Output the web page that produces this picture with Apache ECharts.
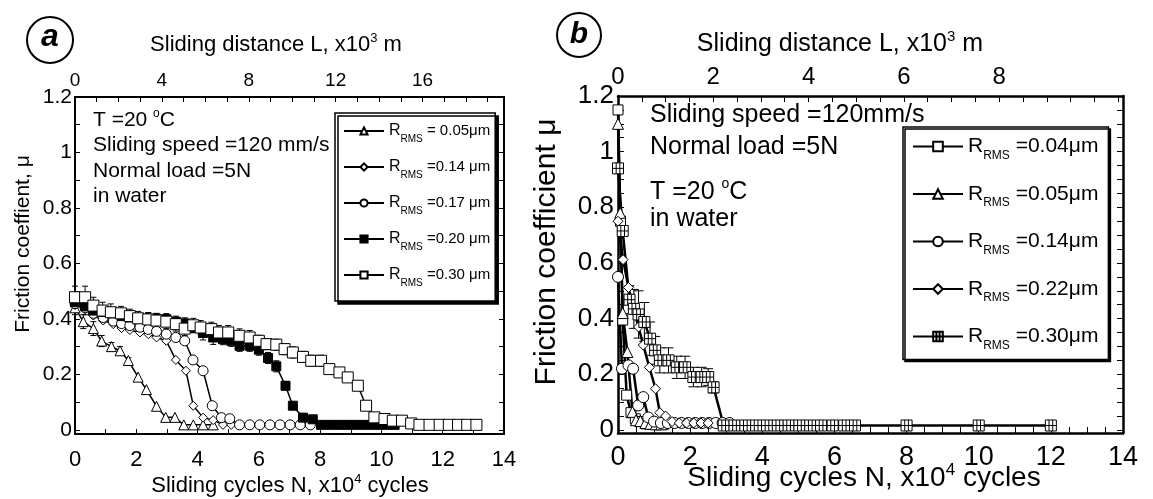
<!DOCTYPE html>
<html><head><meta charset="utf-8">
<script src="https://cdn.jsdelivr.net/npm/echarts@6/dist/echarts.min.js"></script>
<style>html,body{margin:0;padding:0;background:#fff;}#c{width:1153px;height:499px;}</style>
</head><body><div id="c"></div>
<script>
const FONT = '"Liberation Sans", Arial, Helvetica, sans-serif';

// ---------- Panel a : axes ----------
const cyclesTicksA = [0,1,2,3,4,5,6,7,8,9,10,11,12,13,14];
const cyclesLabelsA = [0,2,4,6,8,10,12,14];
const distTicksA = [0,1,2,3,4,5,6,7,8,9,10,11,12,13,14,15,16,17,18,19];
const distLabelsA = [0,4,8,12,16];
const muTicksA = [0,0.1,0.2,0.3,0.4,0.5,0.6,0.7,0.8,0.9,1,1.1,1.2];
const muLabelsA = [0,0.2,0.4,0.6,0.8,1,1.2];

// ---------- Panel b : axes ----------
const cyclesTicksB = [0,0.5,1,1.5,2,2.5,3,3.5,4,4.5,5,5.5,6,6.5,7,7.5,8,8.5,9,9.5,10,10.5,11,11.5,12,12.5,13,13.5,14];
const cyclesLabelsB = [0,2,4,6,8,10,12,14];
const distTicksB = [0,0.5,1,1.5,2,2.5,3,3.5,4,4.5,5,5.5,6,6.5,7,7.5,8,8.5,9,9.5,10,10.5];
const distLabelsB = [0,2,4,6,8];
const muTicksB = [0,0.05,0.1,0.15,0.2,0.25,0.3,0.35,0.4,0.45,0.5,0.55,0.6,0.65,0.7,0.75,0.8,0.85,0.9,0.95,1,1.05,1.1,1.15,1.2];
const muLabelsB = [0,0.2,0.4,0.6,0.8,1,1.2];

// ---------- Panel a : series [N (x10^4 cycles), mu, error] ----------
const a005 = [[0,0.44,0.025],[0.27,0.39,0.025],[0.6,0.365,0.025],[0.87,0.32,0.02],[1.19,0.30,0.015],[1.47,0.285,0.015],[1.74,0.25,0.01],[2.06,0.19,0],[2.33,0.145,0],[2.66,0.085,0],[2.96,0.045,0],[3.26,0.045,0],[3.55,0.018,0],[3.86,0.018,0],[4.18,0.018,0],[4.51,0.018,0]];
const a014 = [[0,0.45,0],[0.33,0.436,0],[0.6,0.412,0],[0.92,0.394,0],[1.25,0.381,0],[1.52,0.367,0],[1.79,0.36,0],[2.12,0.351,0],[2.39,0.345,0],[2.66,0.333,0],[2.98,0.321,0],[3.29,0.252,0],[3.62,0.213,0],[3.86,0.087,0],[4.18,0.044,0],[4.51,0.035,0],[4.83,0.018,0],[5.1,0.018,0]];
const a017 = [[0,0.455,0],[0.33,0.44,0],[0.6,0.42,0],[0.92,0.405,0],[1.25,0.392,0],[1.52,0.383,0],[1.79,0.376,0],[2.12,0.37,0],[2.39,0.362,0],[2.66,0.355,0],[2.98,0.345,0],[3.29,0.333,0],[3.58,0.321,0],[3.85,0.252,0],[4.18,0.213,0],[4.48,0.087,0],[4.78,0.044,0],[5.05,0.04,0],[5.37,0.018,0],[5.7,0.018,0],[6.03,0.018,0],[6.36,0.018,0],[6.69,0.018,0],[7.02,0.018,0],[7.35,0.018,0],[7.68,0.018,0]];
const a020 = [[0,0.46,0.02],[0.33,0.445,0.03],[0.6,0.43,0.02],[0.92,0.425,0.02],[1.25,0.42,0.02],[1.52,0.41,0.02],[1.79,0.405,0.02],[2.12,0.40,0.02],[2.39,0.40,0.02],[2.66,0.40,0.02],[2.98,0.399,0.02],[3.29,0.39,0.02],[3.58,0.384,0.02],[3.86,0.37,0.02],[4.18,0.349,0.025],[4.51,0.333,0.025],[4.83,0.327,0.02],[5.1,0.321,0.02],[5.37,0.303,0.02],[5.7,0.303,0.02],[6.0,0.289,0.02],[6.3,0.259,0.02],[6.57,0.229,0.02],[6.87,0.159,0.015],[7.11,0.087,0],[7.44,0.044,0],[7.76,0.038,0],[8.03,0.018,0],[8.33,0.018,0],[8.63,0.018,0],[8.93,0.018,0],[9.23,0.018,0],[9.53,0.018,0],[9.83,0.018,0],[10.13,0.018,0],[10.43,0.018,0]];
const a030 = [[0,0.478,0.04],[0.33,0.478,0.04],[0.6,0.448,0.03],[0.9,0.43,0.03],[1.17,0.424,0.03],[1.5,0.42,0.025],[1.79,0.41,0.025],[2.06,0.402,0.025],[2.39,0.398,0.025],[2.66,0.394,0.025],[2.98,0.39,0.025],[3.29,0.381,0.025],[3.58,0.365,0.025],[3.86,0.377,0.025],[4.1,0.369,0.025],[4.45,0.363,0.025],[4.7,0.351,0.025],[5.0,0.351,0.025],[5.37,0.339,0.025],[5.7,0.333,0.025],[6.0,0.321,0.02],[6.25,0.309,0.02],[6.57,0.307,0.02],[6.84,0.291,0.02],[7.11,0.279,0.02],[7.44,0.263,0.02],[7.71,0.249,0.02],[8.03,0.249,0.02],[8.3,0.219,0.015],[8.63,0.207,0.015],[8.9,0.189,0.015],[9.23,0.159,0.015],[9.5,0.087,0],[9.77,0.045,0],[10.1,0.039,0],[10.37,0.033,0],[10.67,0.033,0],[10.97,0.023,0],[11.24,0.018,0],[11.57,0.018,0],[11.9,0.018,0],[12.2,0.018,0],[12.5,0.018,0],[12.8,0.018,0],[13.1,0.018,0]];

// ---------- Panel b : series [N, mu, error] ----------
const b004 = [[0,1.15,0],[0.07,0.75,0],[0.13,0.395,0],[0.24,0.125,0],[0.36,0.062,0],[0.48,0.04,0],[0.62,0.03,0],[0.78,0.022,0],[0.94,0.02,0],[1.1,0.02,0],[1.26,0.02,0]];
const b005 = [[0,1.10,0],[0.06,0.78,0],[0.13,0.42,0],[0.26,0.28,0],[0.4,0.065,0],[0.5,0.035,0],[0.62,0.032,0],[0.76,0.025,0],[0.9,0.022,0],[1.05,0.02,0],[1.2,0.02,0]];
const b014 = [[0,0.55,0],[0.11,0.22,0],[0.29,0.232,0],[0.42,0.22,0],[0.56,0.088,0],[0.70,0.118,0],[0.84,0.045,0],[1.0,0.03,0],[1.19,0.025,0],[1.38,0.025,0],[1.57,0.025,0],[1.76,0.025,0],[1.95,0.025,0],[2.14,0.025,0],[2.33,0.025,0],[2.52,0.025,0],[2.71,0.025,0],[2.9,0.025,0],[3.09,0.025,0]];
const b022 = [[0,0.75,0],[0.14,0.612,0],[0.29,0.512,0],[0.43,0.435,0],[0.57,0.37,0],[0.7,0.305,0],[0.87,0.225,0],[1.04,0.148,0],[1.16,0.062,0],[1.32,0.05,0],[1.5,0.03,0],[1.7,0.025,0],[1.9,0.025,0],[2.1,0.025,0],[2.3,0.025,0],[2.5,0.025,0]];
const b030 = [[0,0.94,0],[0.13,0.715,0],[0.32,0.468,0.05],[0.44,0.435,0.07],[0.57,0.415,0.085],[0.73,0.388,0.07],[0.89,0.328,0.06],[1.03,0.286,0.05],[1.16,0.25,0.045],[1.4,0.25,0.045],[1.63,0.225,0.04],[1.86,0.225,0.04],[2.09,0.19,0.035],[2.32,0.19,0.035],[2.5,0.19,0.03],[2.65,0.153,0.02],[2.93,0.016,0],[3.23,0.016,0],[3.53,0.016,0],[3.83,0.016,0],[4.13,0.016,0],[4.43,0.016,0],[4.73,0.016,0],[5.03,0.016,0],[5.33,0.016,0],[5.63,0.016,0],[5.95,0.016,0],[6.27,0.016,0],[6.57,0.016,0],[8.0,0.016,0],[10.0,0.016,0],[12.0,0.016,0]];

// ---------- Legends ----------
const legendNamesA = ['a005','a014','a017','a020','a030'];
const legendValuesA = [' = 0.05\u03bcm',' =0.14 \u03bcm',' =0.17 \u03bcm',' =0.20 \u03bcm',' =0.30 \u03bcm'];
const legendNamesB = ['b004','b005','b014','b022','b030'];
const legendValuesB = [' =0.04\u03bcm',' =0.05\u03bcm',' =0.14\u03bcm',' =0.22\u03bcm',' =0.30\u03bcm'];

const CROSS = 'path://M0,0L12,0L12,12L0,12Z M4,0L4,12 M8,0L8,12 M0,6L12,6';
const fmt = v => String(Math.round(v * 100) / 100);

function xAx(grid, pos, min, max, ticks, labels, fs, margin, lw, tl) {
  return {type:'value', gridIndex:grid, position:pos, min:min, max:max,
    axisLine:{show:true, onZero:false, lineStyle:{color:'#000', width:lw}},
    axisTick:{show:true, inside:true, length:tl, customValues:ticks, lineStyle:{color:'#000', width:1}},
    axisLabel:{show:true, customValues:labels, fontSize:fs, fontFamily:FONT, color:'#000', margin:margin,
      showMinLabel:true, showMaxLabel:true, formatter:fmt},
    splitLine:{show:false}};
}
function yAx(grid, pos, min, max, ticks, labels, fs, margin, lw, tl, show) {
  return {type:'value', gridIndex:grid, position:pos, min:min, max:max,
    axisLine:{show:true, onZero:false, lineStyle:{color:'#000', width:lw}},
    axisTick:{show:true, inside:true, length:tl, customValues:ticks, lineStyle:{color:'#000', width:1}},
    axisLabel:{show:show, customValues:labels, fontSize:fs, fontFamily:FONT, color:'#000', margin:margin,
      padding:[0,0,8,0], showMinLabel:true, showMaxLabel:true, formatter:fmt},
    splitLine:{show:false}};
}
function lineS(name, data, ai, symbol, size, fill, lw) {
  return {type:'line', name:name, xAxisIndex:ai, yAxisIndex:ai, data:data.map(d => [d[0], d[1]]),
    symbol:symbol, symbolSize:size, showAllSymbol:true, z:3,
    lineStyle:{color:'#000', width:lw}, itemStyle:{color:fill, borderColor:'#000', borderWidth:1},
    emphasis:{disabled:true}};
}
function errS(data, ai, cap) {
  return {type:'custom', xAxisIndex:ai, yAxisIndex:ai, z:2, silent:true,
    data:data.filter(d => d[2] > 0).map(d => [d[0], d[1] - d[2], d[1] + d[2]]),
    encode:{x:0, y:[1,2]},
    renderItem:function(params, api) {
      const x = api.value(0);
      const p1 = api.coord([x, api.value(1)]);
      const p2 = api.coord([x, api.value(2)]);
      const st = {stroke:'#000', lineWidth:1};
      return {type:'group', children:[
        {type:'line', shape:{x1:p1[0], y1:p1[1], x2:p2[0], y2:p2[1]}, style:st},
        {type:'line', shape:{x1:p1[0]-cap, y1:p1[1], x2:p1[0]+cap, y2:p1[1]}, style:st},
        {type:'line', shape:{x1:p2[0]-cap, y1:p2[1], x2:p2[0]+cap, y2:p2[1]}, style:st}
      ]};
    }};
}
function legendCfg(names, values, left, top, iw, ih, gap, rfs, vfs, sfs, lh, slh, pad, sh) {
  return {data:names, orient:'vertical', left:left, top:top, itemWidth:iw, itemHeight:ih, itemGap:gap,
    padding:pad, backgroundColor:'#fff', borderColor:'#000', borderWidth:1.5,
    shadowColor:'#000', shadowBlur:0, shadowOffsetX:sh, shadowOffsetY:sh, selectedMode:false,
    formatter:function(n) { return '{r|R}{s|RMS}{v|' + values[names.indexOf(n)] + '}'; },
    textStyle:{color:'#000', fontFamily:FONT, rich:{
      r:{fontSize:rfs, fontFamily:FONT, lineHeight:lh, verticalAlign:'middle', fill:'#000'},
      s:{fontSize:sfs, fontFamily:FONT, lineHeight:slh, verticalAlign:'bottom', fill:'#000'},
      v:{fontSize:vfs, fontFamily:FONT, lineHeight:lh, verticalAlign:'middle', fill:'#000'}}}};
}
function txt(x, y, text, fs) {
  return {type:'text', x:x, y:y, silent:true,
    style:{text:text, fontSize:fs, fontFamily:FONT, fill:'#000', align:'left', verticalAlign:'middle'}};
}
function richTxt(x, y, text, fs, sfs, slh, rot) {
  return {type:'text', x:x, y:y, rotation:rot || 0, silent:true,
    style:{text:text, align:'center', verticalAlign:'middle', fill:'#000', fontFamily:FONT, fontSize:fs,
      rich:{n:{fontSize:fs, fontFamily:FONT, lineHeight:fs + 4, fill:'#000'},
            p:{fontSize:sfs, fontFamily:FONT, lineHeight:slh, verticalAlign:'top', fill:'#000'}}}};
}
function degTxt(x, y, fs, sfs) {
  return {type:'text', x:x, y:y, silent:true, style:{text:'{n|T =20 }{p|o}{n|C}', align:'left', verticalAlign:'middle', fill:'#000',
    rich:{n:{fontSize:fs, fontFamily:FONT, lineHeight:fs + 4, fill:'#000'}, p:{fontSize:sfs, fontFamily:FONT, lineHeight:sfs, verticalAlign:'top', fill:'#000'}}}};
}

const chart = echarts.init(document.getElementById('c'), null, {renderer:'canvas'});
chart.setOption({
  animation:false,
  backgroundColor:'#fff',
  grid:[
    {left:75, top:97, width:429, height:337},
    {left:618, top:96, width:505, height:337}
  ],
  xAxis:[
    xAx(0, 'bottom', 0, 14, cyclesTicksA, cyclesLabelsA, 22, 15, 2, 5),
    xAx(0, 'top', 0, 19.75, distTicksA, distLabelsA, 19, 7, 2, 5),
    xAx(1, 'bottom', 0, 14, cyclesTicksB, cyclesLabelsB, 27, 11, 2.5, 6),
    xAx(1, 'top', 0, 10.6, distTicksB, distLabelsB, 24, 7, 2.5, 6)
  ],
  yAxis:[
    yAx(0, 'left', -0.015, 1.2, muTicksA, muLabelsA, 21, 3, 2, 5, true),
    yAx(0, 'right', -0.015, 1.2, muTicksA, muLabelsA, 21, 3, 2, 5, false),
    yAx(1, 'left', -0.011, 1.2, muTicksB, muLabelsB, 26, 4, 2.5, 6, true),
    yAx(1, 'right', -0.011, 1.2, muTicksB, muLabelsB, 26, 4, 2.5, 6, false)
  ],
  legend:[
    legendCfg(legendNamesA, legendValuesA, 335, 113, 40, 9, 15, 16, 15, 10, 26, 2, [10,5,13,8], 3),
    legendCfg(legendNamesB, legendValuesB, 903, 127, 50, 12, 22, 21, 21, 12, 30, 4, [9,10,8,9], 2)
  ],
  series:[
    errS(a005, 0, 3), errS(a020, 0, 3), errS(a030, 0, 3), errS(b030, 2, 5),
    lineS('a005', a005, 0, 'triangle', 10, '#fff', 1.5),
    lineS('a014', a014, 0, 'diamond', 9, '#fff', 1.5),
    lineS('a017', a017, 0, 'circle', 10, '#fff', 1.5),
    lineS('a020', a020, 0, 'rect', 9, '#000', 1.5),
    lineS('a030', a030, 0, 'rect', 11, '#fff', 1.5),
    lineS('b004', b004, 2, 'rect', 10, '#fff', 2.5),
    lineS('b005', b005, 2, 'triangle', 11, '#fff', 2.5),
    lineS('b014', b014, 2, 'circle', 11, '#fff', 2.5),
    lineS('b022', b022, 2, 'diamond', 10, '#fff', 2.5),
    lineS('b030', b030, 2, CROSS, 11, '#fff', 2.5)
  ],
  graphic:[
    {type:'circle', shape:{cx:50, cy:40, r:23}, style:{fill:'none', stroke:'#000', lineWidth:2}, silent:true},
    {type:'text', x:50, y:37, silent:true, style:{text:'a', fontSize:32, fontWeight:'bold', fontStyle:'italic', fontFamily:FONT, fill:'#000', align:'center', verticalAlign:'middle'}},
    {type:'circle', shape:{cx:579, cy:35, r:22}, style:{fill:'none', stroke:'#000', lineWidth:2}, silent:true},
    {type:'text', x:579, y:35, silent:true, style:{text:'b', fontSize:30, fontWeight:'bold', fontStyle:'italic', fontFamily:FONT, fill:'#000', align:'center', verticalAlign:'middle'}},
    // axis names panel a
    richTxt(276, 45, '{n|Sliding distance L, x10}{p|3}{n| m}', 22, 13, 12),
    richTxt(290, 486, '{n|Sliding cycles N, x10}{p|4}{n| cycles}', 22, 13, 12),
    richTxt(23, 244, '{n|Friction coeffient, \u03bc}', 21, 13, 12, Math.PI / 2),
    // axis names panel b
    richTxt(840, 44, '{n|Sliding distance L, x10}{p|3}{n| m}', 25, 15, 13),
    richTxt(864, 478, '{n|Sliding cycles N, x10}{p|4}{n| cycles}', 28, 17, 14),
    richTxt(547, 252, '{n|Friction coefficient \u03bc}', 30, 15, 13, Math.PI / 2),
    // annotations panel a
    degTxt(93, 120, 21, 12),
    txt(93, 145.5, 'Sliding speed =120 mm/s', 21),
    txt(93, 171, 'Normal load =5N', 21),
    txt(93, 196.5, 'in water', 21),
    // annotations panel b
    txt(650, 115, 'Sliding speed =120mm/s', 25),
    txt(650, 147, 'Normal load =5N', 25),
    degTxt(650, 192, 25, 14),
    txt(650, 219, 'in water', 25)
  ]
});
</script></body></html>
